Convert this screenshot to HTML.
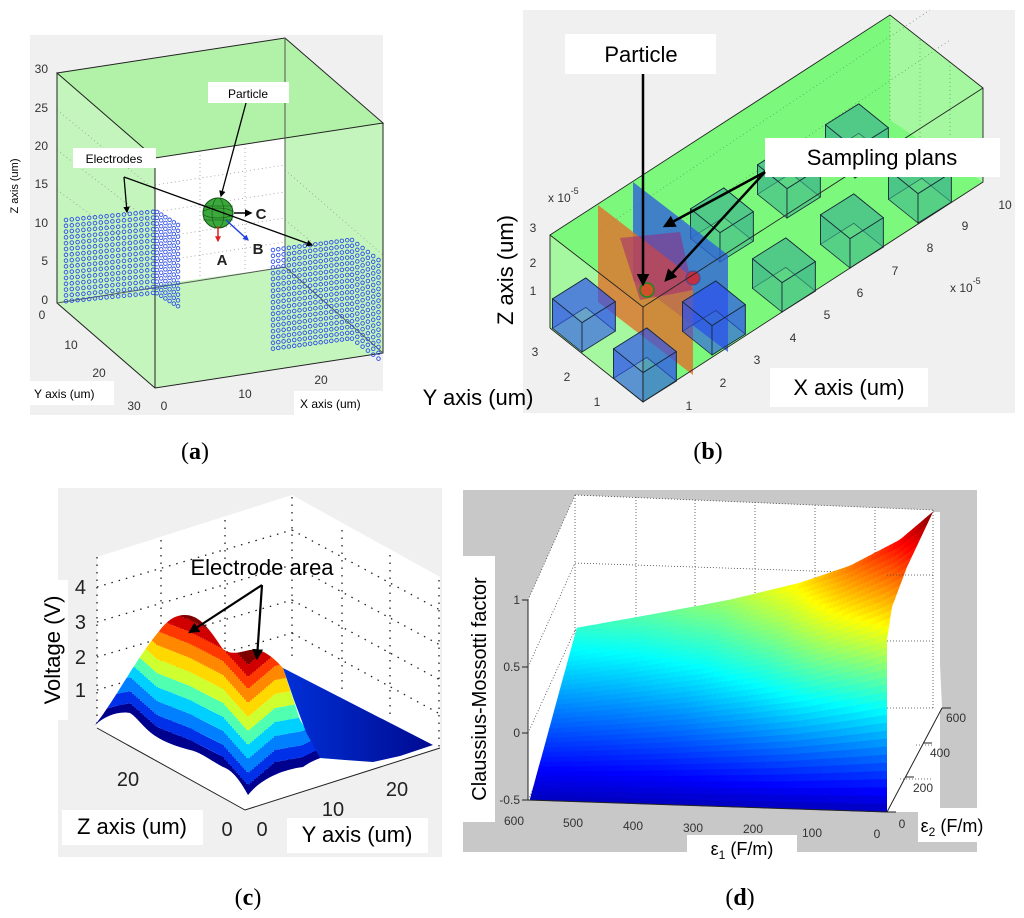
<!DOCTYPE html>
<html><head><meta charset="utf-8"><style>
html,body{margin:0;padding:0;background:#fff;}
svg{display:block;font-family:"Liberation Sans",sans-serif;}
.tk{font-size:12px;fill:#333;}
.lbl{font-family:"Liberation Serif",serif;font-size:24px;}
</style></head><body>
<svg id="fig" width="1024" height="918" viewBox="0 0 1024 918" xmlns="http://www.w3.org/2000/svg">
<defs>
<marker id="ah" viewBox="0 0 10 10" refX="8" refY="5" markerWidth="5" markerHeight="5" orient="auto"><path d="M0,0 L10,5 L0,10 z" fill="#000"/></marker>
<marker id="ahr" viewBox="0 0 10 10" refX="8" refY="5" markerWidth="4" markerHeight="4" orient="auto"><path d="M0,0 L10,5 L0,10 z" fill="#e02020"/></marker>
<marker id="ahb" viewBox="0 0 10 10" refX="8" refY="5" markerWidth="4" markerHeight="4" orient="auto"><path d="M0,0 L10,5 L0,10 z" fill="#2040e0"/></marker>
<clipPath id="csurf"><path d="M95,725 C115,700 135,660 160,630 C168,620 175,615 185,615 C200,615 210,630 222,648 C230,656 240,652 250,650 C262,648 272,656 283,668 L300,720 L323,757 C315,760 310,762 303,767 C280,770 260,780 248,795 C240,780 232,770 223,767 C210,760 200,752 190,750 C175,746 165,742 157,737 C145,730 138,718 130,713 C118,711 105,716 95,725 Z"/></clipPath>
<linearGradient id="flat" x1="0" y1="0" x2="1" y2="0"><stop offset="0" stop-color="#0030d8"/><stop offset="1" stop-color="#000a90"/></linearGradient>
</defs>

<!-- ============ PANEL A ============ -->
<g>
<rect x="30" y="35" width="353" height="380" fill="#f0f0f0"/>
<polygon points="57,73 285,38 383,123 383,353 155,388 57,303" fill="#c4f5bd"/>
<polygon points="57,73 285,38 383,123 155,158" fill="#b2f2a8"/>
<polygon points="155,158 285,138 285,267 155,285" fill="#ffffff"/>
<g stroke="#999" stroke-width="0.8" stroke-dasharray="1,3" fill="none">
<line x1="155" y1="185" x2="285" y2="165"/><line x1="155" y1="212" x2="285" y2="192"/><line x1="155" y1="238" x2="285" y2="218"/><line x1="155" y1="262" x2="285" y2="242"/>
<line x1="200" y1="151" x2="200" y2="278"/><line x1="245" y1="144" x2="245" y2="272"/>
<line x1="57" y1="110" x2="155" y2="190"/><line x1="57" y1="150" x2="155" y2="225"/><line x1="57" y1="190" x2="155" y2="262"/>
<line x1="285" y1="170" x2="383" y2="255"/><line x1="285" y1="220" x2="383" y2="300"/>
</g>
<g stroke="#222" stroke-width="1" fill="none">
<polyline points="57,73 285,38 383,123 155,158 57,73 57,303 155,388 383,353 383,123"/>
<line x1="155" y1="158" x2="155" y2="388"/>
<line x1="285" y1="38" x2="285" y2="267" stroke="#555"/>
<line x1="57" y1="303" x2="285" y2="267" stroke="#555"/>
<line x1="285" y1="267" x2="383" y2="353" stroke="#555"/>
</g>
<g id="electrodes" fill="none" stroke="#3050e8" stroke-width="0.9"></g>
<circle cx="218" cy="213" r="15" fill="#3aa83a" stroke="#145214" stroke-width="1"/>
<g stroke="#145214" stroke-width="0.6" fill="none"><ellipse cx="218" cy="213" rx="15" ry="5"/><ellipse cx="218" cy="213" rx="6" ry="15"/><line x1="203" y1="206" x2="233" y2="206"/><line x1="203" y1="220" x2="233" y2="220"/></g>
<line x1="218" y1="226" x2="218" y2="241" stroke="#e02020" stroke-width="1.5" marker-end="url(#ahr)"/>
<line x1="226" y1="220" x2="248" y2="240" stroke="#2040e0" stroke-width="1.5" marker-end="url(#ahb)"/>
<line x1="234" y1="213" x2="251" y2="213" stroke="#000" stroke-width="1.5" marker-end="url(#ah)"/>
<text x="222" y="265" font-size="15" font-weight="bold" text-anchor="middle" fill="#222">A</text>
<text x="258" y="254" font-size="15" font-weight="bold" text-anchor="middle" fill="#222">B</text>
<text x="261" y="219" font-size="15" font-weight="bold" text-anchor="middle" fill="#222">C</text>
<rect x="208" y="82" width="81" height="21" fill="#fff"/>
<text x="248" y="98" font-size="12" text-anchor="middle">Particle</text>
<line x1="246" y1="103" x2="221" y2="196" stroke="#000" stroke-width="1.3" marker-end="url(#ah)"/>
<rect x="73" y="148" width="83" height="20" fill="#fff"/>
<text x="114" y="163" font-size="12" text-anchor="middle">Electrodes</text>
<polyline points="124,177 312,245" fill="none" stroke="#000" stroke-width="1.3" marker-end="url(#ah)"/>
<line x1="124" y1="177" x2="127" y2="212" stroke="#000" stroke-width="1.3" marker-end="url(#ah)"/>
<g class="tk" text-anchor="end">
<text x="48" y="73">30</text><text x="48" y="112">25</text><text x="48" y="150">20</text><text x="48" y="188">15</text><text x="48" y="227">10</text><text x="48" y="265">5</text><text x="48" y="304">0</text>
</g>
<g class="tk" text-anchor="middle">
<text x="42" y="319">0</text><text x="71" y="349">10</text><text x="99" y="377">20</text><text x="134" y="410">30</text>
<text x="164" y="410">0</text><text x="245" y="398">10</text><text x="321" y="384">20</text>
</g>
<text transform="translate(18,186) rotate(-90)" font-size="11" text-anchor="middle">Z axis (um)</text>
<rect x="30" y="381" width="84" height="24" fill="#fff"/>
<text x="34" y="398" font-size="12">Y axis (um)</text>
<rect x="294" y="391" width="89" height="24" fill="#fff"/>
<text x="300" y="408" font-size="12">X axis (um)</text>
</g>
<text x="195" y="459" class="lbl" text-anchor="middle">(<tspan font-weight="bold">a</tspan>)</text>

<!-- ============ PANEL B ============ -->
<g>
<rect x="523" y="10" width="492" height="403" fill="#f0f0f0"/>
<polygon points="550,235 890,15 983,88 983,182 643,402 550,328" fill="#7cf97c"/>
<polygon points="550,235 643,307 643,402 550,328" fill="#a6f8a0"/>
<polygon points="890,15 983,88 983,182 890,120" fill="#a6f8a0"/>
<g stroke="#5a9a5a" stroke-width="0.7" stroke-dasharray="1,3" fill="none">
<line x1="890" y1="15" x2="890" y2="120"/><line x1="920" y1="40" x2="920" y2="140"/><line x1="950" y1="62" x2="950" y2="160"/>
<line x1="600" y1="230" x2="930" y2="10"/><line x1="640" y1="250" x2="950" y2="40"/>
</g>
<g id="cubesBack"></g>
<polygon points="633,182 728,255 728,352 633,280" fill="#2f62d8" fill-opacity="0.8"/>
<polygon points="598,205 693,278 693,375 598,302" fill="#e0702a" fill-opacity="0.8"/>
<polygon points="620,238 680,232 693,290 640,300" fill="#a0207a" fill-opacity="0.5"/>
<circle cx="647" cy="290" r="7" fill="#d0502a" stroke="#1a8a1a" stroke-width="1.5"/>
<circle cx="693" cy="278" r="7" fill="#c03040" stroke="#3050a0" stroke-width="1"/>
<g id="cubesFront"></g>
<g stroke="#222" stroke-width="0.9" fill="none">
<polyline points="550,328 550,235 890,15 983,88 983,182 643,402 550,328"/>
<polyline points="550,235 643,307 983,88"/>
<line x1="643" y1="307" x2="643" y2="402"/>
</g>
<g class="tk" text-anchor="middle" font-size="13">
<text x="689" y="410">1</text><text x="723" y="387">2</text><text x="757" y="364">3</text><text x="793" y="342">4</text><text x="827" y="319">5</text><text x="860" y="297">6</text><text x="895" y="275">7</text><text x="930" y="252">8</text><text x="965" y="230">9</text><text x="1005" y="209">10</text>
<text x="597" y="406">1</text><text x="567" y="381">2</text><text x="535" y="356">3</text>
<text x="533" y="232">3</text><text x="533" y="267">2</text><text x="533" y="295">1</text>
</g>
<text x="548" y="202" class="tk">x 10<tspan dy="-8" font-size="9">-5</tspan></text>
<text x="950" y="292" class="tk">x 10<tspan dy="-8" font-size="9">-5</tspan></text>
<rect x="565" y="34" width="151" height="40" fill="#fff"/>
<text x="641" y="62" font-size="22" text-anchor="middle">Particle</text>
<line x1="643" y1="74" x2="643" y2="284" stroke="#000" stroke-width="2.5" marker-end="url(#ah)"/>
<rect x="765" y="138" width="235" height="39" fill="#fff"/>
<text x="882" y="165" font-size="22" text-anchor="middle">Sampling plans</text>
<line x1="765" y1="172" x2="665" y2="226" stroke="#000" stroke-width="2.5" marker-end="url(#ah)"/>
<line x1="765" y1="172" x2="666" y2="280" stroke="#000" stroke-width="2.5" marker-end="url(#ah)"/>
<rect x="770" y="368" width="158" height="39" fill="#fff"/>
<text x="849" y="395" font-size="22" text-anchor="middle">X axis (um)</text>
<text x="478" y="405" font-size="22" text-anchor="middle">Y axis (um)</text>
<text transform="translate(513,270) rotate(-90)" font-size="22" text-anchor="middle">Z axis (um)</text>
</g>
<text x="708" y="459" class="lbl" text-anchor="middle">(<tspan font-weight="bold">b</tspan>)</text>

<!-- ============ PANEL C ============ -->
<g>
<rect x="58" y="488" width="384" height="369" fill="#f0f0f0"/>
<polygon points="97,557 292,495 440,577 440,748 245,810 97,728" fill="#fff"/>
<g stroke="#222" stroke-width="1.3" stroke-dasharray="1.5,6" fill="none">
<line x1="97" y1="557" x2="97" y2="728"/><line x1="161" y1="540" x2="161" y2="700"/><line x1="225" y1="520" x2="225" y2="680"/><line x1="292" y1="497" x2="292" y2="660"/>
<line x1="342" y1="530" x2="342" y2="690"/><line x1="390" y1="555" x2="390" y2="720"/><line x1="439" y1="580" x2="439" y2="748"/>
<line x1="97" y1="587" x2="292" y2="530"/><line x1="97" y1="622" x2="292" y2="565"/><line x1="97" y1="657" x2="292" y2="600"/><line x1="97" y1="690" x2="292" y2="633"/>
<line x1="292" y1="530" x2="440" y2="610"/><line x1="292" y1="565" x2="440" y2="645"/><line x1="292" y1="600" x2="440" y2="680"/><line x1="292" y1="633" x2="440" y2="714"/>
</g>
<g id="cbands" clip-path="url(#csurf)"></g>
<polygon points="283,668 433,745 400,756 373,762 345,760 320,758 306,732 294,700" fill="url(#flat)"/>
<g stroke="#222" stroke-width="1" fill="none">
<polyline points="97,728 245,810 440,748"/>
</g>
<g font-size="20" fill="#222" text-anchor="end">
<text x="86" y="594">4</text><text x="86" y="629">3</text><text x="86" y="664">2</text><text x="86" y="697">1</text>
</g>
<g font-size="20" fill="#222" text-anchor="middle">
<text x="128" y="786">20</text><text x="227" y="836">0</text><text x="262" y="836">0</text><text x="333" y="816">10</text><text x="397" y="796">20</text>
</g>
<rect x="38" y="580" width="30" height="140" fill="#fff"/>
<text transform="translate(60,650) rotate(-90)" font-size="22" text-anchor="middle">Voltage (V)</text>
<text x="262" y="575" font-size="22" text-anchor="middle">Electrode area</text>
<line x1="262" y1="585" x2="190" y2="632" stroke="#000" stroke-width="2.2" marker-end="url(#ah)"/>
<line x1="262" y1="585" x2="257" y2="658" stroke="#000" stroke-width="2.2" marker-end="url(#ah)"/>
<rect x="62" y="810" width="141" height="35" fill="#fff"/>
<text x="132" y="834" font-size="22" text-anchor="middle">Z axis (um)</text>
<rect x="287" y="818" width="141" height="35" fill="#fff"/>
<text x="357" y="842" font-size="22" text-anchor="middle">Y axis (um)</text>
</g>
<text x="248" y="905" class="lbl" text-anchor="middle">(<tspan font-weight="bold">c</tspan>)</text>

<!-- ============ PANEL D ============ -->
<g>
<rect x="463" y="490" width="514" height="362" fill="#c8c8c8"/>
<polygon points="528,800 528,600 575,495 933,510 942,708 887,812" fill="#fff"/>
<g stroke="#444" stroke-width="0.8" stroke-dasharray="1,2" fill="none">
<line x1="528" y1="600" x2="575" y2="495"/><line x1="575" y1="495" x2="933" y2="510"/><line x1="933" y1="510" x2="933" y2="708"/>
<line x1="575" y1="563" x2="933" y2="575"/><line x1="575" y1="630" x2="933" y2="641"/><line x1="575" y1="697" x2="933" y2="708"/>
<line x1="528" y1="667" x2="575" y2="563"/><line x1="528" y1="733" x2="575" y2="630"/><line x1="528" y1="800" x2="575" y2="697"/>
<line x1="575" y1="495" x2="575" y2="697"/><line x1="636" y1="497" x2="636" y2="700"/><line x1="695" y1="500" x2="695" y2="700"/><line x1="755" y1="502" x2="755" y2="702"/><line x1="815" y1="505" x2="815" y2="705"/><line x1="875" y1="507" x2="875" y2="706"/>
</g>
<g id="dsurf"></g>
<polygon points="887,812 887,640 892,607 907,567 933,512 940,512 940,812" fill="#fff"/>
<g stroke="#444" stroke-width="0.8" stroke-dasharray="1,2" fill="none">
<line x1="887" y1="575" x2="933" y2="575"/><line x1="887" y1="641" x2="933" y2="641"/><line x1="887" y1="708" x2="933" y2="708"/><line x1="933" y1="512" x2="933" y2="708"/><line x1="900" y1="779" x2="933" y2="779"/><line x1="916" y1="745" x2="933" y2="745"/>
</g>
<g stroke="#222" stroke-width="1" fill="none">
<polyline points="528,600 528,800 887,812 942,708"/>
<line x1="522" y1="600" x2="528" y2="600"/><line x1="522" y1="667" x2="528" y2="667"/><line x1="522" y1="733" x2="528" y2="733"/><line x1="522" y1="800" x2="528" y2="800"/>
<line x1="887" y1="812" x2="896" y2="812"/><line x1="905" y1="777" x2="914" y2="777"/><line x1="923" y1="743" x2="932" y2="743"/><line x1="942" y1="708" x2="951" y2="708"/>
</g>
<g class="tk" text-anchor="end" font-size="12">
<text x="520" y="604">1</text><text x="520" y="671">0.5</text><text x="520" y="737">0</text><text x="520" y="804">-0.5</text>
</g>
<g class="tk" text-anchor="middle" font-size="12">
<text x="514" y="825">600</text><text x="573" y="827">500</text><text x="633" y="830">400</text><text x="693" y="832">300</text><text x="753" y="833">200</text><text x="812" y="837">100</text><text x="877" y="838">0</text>
<text x="902" y="828">0</text><text x="923" y="792">200</text><text x="940" y="757">400</text><text x="956" y="722">600</text>
</g>
<rect x="463" y="556" width="32" height="266" fill="#fff"/>
<text transform="translate(486,689) rotate(-90)" font-size="20" text-anchor="middle">Claussius-Mossotti factor</text>
<rect x="687" y="835" width="110" height="25" fill="#fff"/>
<text x="742" y="855" font-size="18" text-anchor="middle">ε<tspan font-size="12" dy="4">1</tspan><tspan dy="-4"> (F/m)</tspan></text>
<rect x="918" y="808" width="68" height="34" fill="#fff"/>
<text x="952" y="832" font-size="18" text-anchor="middle">ε<tspan font-size="12" dy="4">2</tspan><tspan dy="-4"> (F/m)</tspan></text>
</g>
<text x="740" y="905" class="lbl" text-anchor="middle">(<tspan font-weight="bold">d</tspan>)</text>
</svg>

<script>
var NS="http://www.w3.org/2000/svg";
function mk(tag,attrs,parent){var e=document.createElementNS(NS,tag);for(var k in attrs)e.setAttribute(k,attrs[k]);parent.appendChild(e);return e;}

// ---- panel (a) electrodes ----
var eg=document.getElementById('electrodes');
function grid(ox,oy,cx,cy,rx,ry,nc,nr){
  for(var i=0;i<nc;i++)for(var j=0;j<nr;j++){
    var c=mk('circle',{cx:(ox+i*cx+j*rx).toFixed(1),cy:(oy+i*cy+j*ry).toFixed(1),r:1.8},eg);
    
    
  }
}
grid(66,220,5.8,-0.55,0,5.8,16,15);
grid(157,212,4.2,2.6,0,5.8,6,15);
grid(273,250,5.3,-0.7,0,5.8,15,18);
grid(352,240,5.3,4,0,5.8,6,18);

// ---- panel (b) cubes ----
var X=[35,-22],Y=[-31,-25],Z=[0,-31];
function P(p,a,b,c,s){return [p[0]+s*(a*X[0]+b*Y[0]+c*Z[0]),p[1]+s*(a*X[1]+b*Y[1]+c*Z[1])];}
function poly(g,pts,fill,op,name){
  var e=mk('polygon',{points:pts.map(function(q){return q[0].toFixed(1)+','+q[1].toFixed(1);}).join(' '),fill:fill,'fill-opacity':op,stroke:'#1a2a3a','stroke-width':0.8},g);
  
  
}
function cube(g,p,s,fill,name){
  poly(g,[P(p,0,1,0,s),P(p,1,1,0,s),P(p,1,0,0,s),P(p,1,0,1,s),P(p,1,1,1,s),P(p,0,1,1,s)],fill,0.35,name+'-back');
  poly(g,[p,P(p,0,1,0,s),P(p,0,1,1,s),P(p,0,0,1,s)],fill,0.6,name);
  poly(g,[p,P(p,1,0,0,s),P(p,1,0,1,s),P(p,0,0,1,s)],fill,0.6,name);
  poly(g,[P(p,0,0,1,s),P(p,1,0,1,s),P(p,1,1,1,s),P(p,0,1,1,s)],fill,0.5,name);
}
var gb=document.getElementById('cubesBack'),gf=document.getElementById('cubesFront');
[[720,262],[787,218],[855,178]].forEach(function(p){cube(gb,p,0.95,'#3cb48c','sampling-cube');});
[[782,312],[850,268],[918,223]].forEach(function(p){cube(gf,p,0.95,'#3cb48c','sampling-cube');});
cube(gf,[582,352],0.95,'#2a4ef0','electrode-cube');
cube(gf,[643,402],0.95,'#2a4ef0','electrode-cube');
cube(gf,[712,355],0.95,'#2a4ef0','electrode-cube');

// ---- panel (c) voltage surface: colour by height above base line ----
var baseLine=[[90,722],[130,713],[157,737],[190,750],[223,767],[248,795],[275,772],[303,767],[323,757],[345,758]];
var levelHeights=[0,10,22,36,50,64,78,92,106,118,130,300];
var bandColors=['#00008f','#0030e8','#0080ff','#00d0ff','#50ffb0','#d0ff30','#ffd800','#ff8800','#ff3800','#d00000','#800000'];
function baseAt(x){
  for(var i=0;i<baseLine.length-1;i++){var a=baseLine[i],b=baseLine[i+1];if(x>=a[0]&&x<=b[0]){return a[1]+(b[1]-a[1])*(x-a[0])/(b[0]-a[0]);}}
  return x<baseLine[0][0]?baseLine[0][1]:baseLine[baseLine.length-1][1];
}
var cb=document.getElementById('cbands');
for(var x=88;x<=345;x+=2){
  var by=baseAt(x+1);
  for(var k=0;k<bandColors.length;k++){
    var y1=by-levelHeights[k+1],y0=by-levelHeights[k]+(k===0?20:0);
    var r=mk('rect',{x:x,y:y1.toFixed(1),width:2.3,height:(y0-y1).toFixed(1),fill:bandColors[k]},cb);
    
    
  }
}

// ---- panel (d) Claussius-Mossotti surface ----
var topEdge=[[577,628],[650,615],[730,600],[800,583],[850,566],[900,540],[933,512]];
var topValue=[0.42,0.46,0.53,0.64,0.76,0.88,1.0];
var bottomLeft=[530,800],bottomRight=[887,812];
function jet(v){
  v=Math.max(0,Math.min(1,v));
  var r=Math.min(1,Math.max(0,1.5-Math.abs(4*v-3))),g=Math.min(1,Math.max(0,1.5-Math.abs(4*v-2))),b=Math.min(1,Math.max(0,1.5-Math.abs(4*v-1)));
  return 'rgb('+Math.round(r*255)+','+Math.round(g*255)+','+Math.round(b*255)+')';
}
function lerp(a,b,t){return [a[0]+(b[0]-a[0])*t,a[1]+(b[1]-a[1])*t];}
function topAt(u){var f=u*(topEdge.length-1),i=Math.min(topEdge.length-2,Math.floor(f)),t=f-i;return {p:lerp(topEdge[i],topEdge[i+1],t),v:topValue[i]+(topValue[i+1]-topValue[i])*t};}
var ds=document.getElementById('dsurf');
var NU=70,NW=36;
for(var i=0;i<NU;i++){
  var u0=i/NU,u1=(i+1)/NU;
  var T0=topAt(u0),T1=topAt(u1);
  var B0=lerp(bottomLeft,bottomRight,u0),B1=lerp(bottomLeft,bottomRight,u1);
  for(var j=0;j<NW;j++){
    var w0=j/NW,w1=(j+1)/NW;
    var a=lerp(B0,T0.p,w0),b=lerp(B1,T1.p,w0),c=lerp(B1,T1.p,w1),e=lerp(B0,T0.p,w1);
    var v=0.06+(w0+w1)/2*((T0.v+T1.v)/2-0.06);
    var q=mk('polygon',{points:[a,b,c,e].map(function(z){return z[0].toFixed(1)+','+z[1].toFixed(1);}).join(' '),fill:jet(v),stroke:jet(v),'stroke-width':0.6},ds);
    
    
  }
}
</script>
</body></html>
